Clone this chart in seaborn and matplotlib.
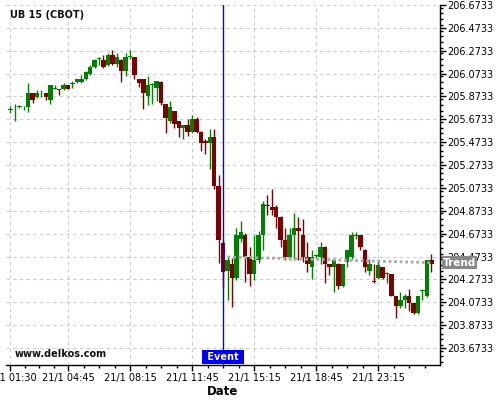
import numpy as np
import pandas as pd
import seaborn as sns
import matplotlib.pyplot as plt
import matplotlib.transforms as mtransforms
from matplotlib.ticker import FixedLocator, MultipleLocator, FormatStrFormatter

# 15 minute bars, UB 15 (CBOT), 21/1
opens = [205.755, 205.76, 205.78, 205.76, 205.78, 205.90, 205.87, 205.90, 205.90, 205.84,
         205.94, 205.94, 205.94, 205.97, 205.98, 206.00, 206.00, 206.03, 206.07, 206.13,
         206.20, 206.19, 206.15, 206.24, 206.16, 206.19, 206.10, 206.215, 206.22, 206.03,
         206.03, 205.88, 205.97, 205.95, 206.00, 205.81, 205.66, 205.75, 205.66, 205.60,
         205.62, 205.56, 205.68, 205.56, 205.48, 205.47, 205.52, 205.09, 204.59, 204.35,
         204.41, 204.29, 204.63, 204.66, 204.47, 204.32, 204.44, 204.66, 204.92, 204.91,
         204.91, 204.82, 204.62, 204.47, 204.66, 204.72, 204.66, 204.47, 204.38, 204.48,
         204.47, 204.56, 204.41, 204.38, 204.41, 204.22, 204.43, 204.47, 204.65, 204.66,
         204.53, 204.35, 204.26, 204.29, 204.38, 204.32, 204.32, 204.13, 204.04, 204.09,
         204.13, 204.07, 203.98, 204.17, 204.13, 204.44]
highs = [205.79, 205.81, 205.80, 205.79, 205.99, 205.90, 205.93, 205.93, 205.90, 205.97,
         205.97, 205.94, 205.99, 205.97, 206.01, 206.03, 206.06, 206.10, 206.15, 206.20,
         206.22, 206.24, 206.25, 206.28, 206.25, 206.20, 206.25, 206.28, 206.22, 206.03,
         206.03, 206.05, 205.99, 206.01, 206.01, 205.81, 205.835, 205.75, 205.66, 205.62,
         205.68, 205.71, 205.69, 205.57, 205.50, 205.59, 205.59, 205.19, 204.62, 204.47,
         204.46, 204.72, 204.78, 204.68, 204.56, 204.66, 204.70, 204.96, 205.01, 205.06,
         204.92, 204.83, 204.72, 204.72, 204.85, 204.82, 204.80, 204.60, 204.53, 204.50,
         204.60, 204.57, 204.41, 204.46, 204.42, 204.41, 204.53, 204.69, 204.69, 204.66,
         204.54, 204.45, 204.41, 204.44, 204.38, 204.34, 204.32, 204.13, 204.16, 204.15,
         204.19, 204.07, 204.13, 204.19, 204.44, 204.50]
lows = [205.73, 205.66, 205.77, 205.755, 205.74, 205.82, 205.86, 205.87, 205.84, 205.81,
        205.935, 205.89, 205.93, 205.94, 205.95, 205.99, 205.99, 206.02, 206.06, 206.12,
        206.15, 206.12, 206.14, 206.15, 206.13, 206.00, 206.05, 206.20, 206.03, 205.96,
        205.76, 205.80, 205.81, 205.83, 205.80, 205.55, 205.64, 205.60, 205.52, 205.50,
        205.53, 205.55, 205.55, 205.40, 205.37, 205.24, 205.06, 204.42, 204.20, 204.09,
        204.03, 204.27, 204.60, 204.25, 204.22, 204.27, 204.42, 204.53, 204.84, 204.84,
        204.72, 204.56, 204.44, 204.44, 204.44, 204.44, 204.43, 204.34, 204.28, 204.46,
        204.41, 204.24, 204.31, 204.16, 204.19, 204.21, 204.38, 204.45, 204.63, 204.53,
        204.34, 204.31, 204.24, 204.28, 204.28, 204.24, 204.13, 203.94, 204.02, 204.02,
        204.00, 203.97, 203.97, 204.09, 204.12, 204.34]
closes = [205.76, 205.76, 205.785, 205.765, 205.90, 205.84, 205.90, 205.905, 205.87, 205.97,
          205.945, 205.93, 205.97, 205.94, 205.985, 206.03, 206.03, 206.09, 206.13, 206.19,
          206.20, 206.13, 206.24, 206.16, 206.22, 206.10, 206.22, 206.22, 206.06, 205.99,
          205.90, 205.97, 205.98, 206.01, 205.82, 205.685, 205.78, 205.63, 205.60, 205.62,
          205.56, 205.68, 205.56, 205.47, 205.47, 205.52, 205.09, 204.62, 204.34, 204.44,
          204.29, 204.66, 204.69, 204.47, 204.32, 204.44, 204.66, 204.93, 204.915, 204.88,
          204.82, 204.62, 204.47, 204.66, 204.72, 204.70, 204.47, 204.41, 204.47, 204.49,
          204.56, 204.41, 204.38, 204.44, 204.22, 204.41, 204.53, 204.66, 204.66, 204.56,
          204.38, 204.41, 204.25, 204.40, 204.29, 204.325, 204.13, 204.04, 204.09, 204.13,
          204.07, 203.98, 204.13, 204.175, 204.44, 204.41]

tick_bars = [0, 13, 27, 41, 55, 69, 83]
tick_labels = ['21/1 01:30', '21/1 04:45', '21/1 08:15', '21/1 11:45',
               '21/1 15:15', '21/1 18:45', '21/1 23:15']

event_bar = 48
trend_x = [49, 95]
trend_y = [204.47, 204.42]

df = pd.DataFrame({'open': opens, 'high': highs, 'low': lows, 'close': closes})
df['bar'] = np.arange(len(df))
up = df['close'] >= df['open']
colors = np.where(up, '#008000', '#800000')

sns.set_theme(style='white')
plt.rcParams['font.family'] = ['DejaVu Sans']

fig = plt.figure(figsize=(5, 4), dpi=100)
ax = fig.add_axes([0.012, 0.0875, 0.868, 0.9])

# wicks and bodies
ax.vlines(df['bar'], df['low'], df['high'], colors=colors, lw=1, zorder=2)
body = np.maximum((df['close'] - df['open']).abs(), 0.008)
ax.bar(df['bar'], body, bottom=np.minimum(df['open'], df['close']),
       width=1.0, color=colors, lw=0, zorder=2)

# trend line
sns.lineplot(x=trend_x, y=trend_y, ax=ax, color='#a8a8a8', lw=2,
             linestyle=(0, (1, 1)), zorder=3)

# event line
ax.axvline(event_bar, color='#0000ff', lw=1, zorder=4)
bt = mtransforms.blended_transform_factory(ax.transData, ax.transAxes)
ax.text(event_bar, 0.008, ' Event ', transform=bt, ha='center', va='bottom',
        color='white', fontsize=7, fontweight='bold', zorder=5,
        bbox=dict(boxstyle='square,pad=0.2', fc='#0000ff', ec='none'))

bt2 = mtransforms.blended_transform_factory(ax.transAxes, ax.transData)
ax.annotate('Trend', xy=(1.0, trend_y[-1]), xycoords=bt2, xytext=(2, 0),
            textcoords='offset points', ha='left', va='center', color='white',
            fontsize=7.5, fontweight='bold', annotation_clip=False, zorder=6,
            bbox=dict(boxstyle='square,pad=0.12', fc='#888888', ec='none'))

ax.set_xlim(-1, 96.95)
ax.set_ylim(203.525, 206.6733)

# x ticks
minor = []
for a, b in zip(tick_bars[:-1], tick_bars[1:]):
    minor += [a + (b - a) * k / 4 for k in (1, 2, 3)]
step = (tick_bars[-1] - tick_bars[-2]) / 4
minor += [tick_bars[-1] + step * k for k in (1, 2, 3)]
ax.xaxis.set_major_locator(FixedLocator(tick_bars))
ax.xaxis.set_minor_locator(FixedLocator(minor))
ax.set_xticklabels(tick_labels)

# y ticks on the right
ax.yaxis.tick_right()
ax.yaxis.set_major_locator(FixedLocator(np.arange(203.6733, 206.68, 0.2)))
ax.yaxis.set_minor_locator(MultipleLocator(0.05))
ax.yaxis.set_major_formatter(FormatStrFormatter('%.4f'))

ax.tick_params(axis='both', which='major', length=4, width=1, color='black',
               labelsize=7, labelcolor='black', direction='out')
ax.tick_params(axis='both', which='minor', length=2, width=1, color='black', direction='out')
ax.tick_params(axis='x', which='both', bottom=True, pad=2)
ax.tick_params(axis='y', which='both', right=True, left=False, pad=1)

ax.grid(True, which='major', color='#cccccc', linestyle=(0, (3, 3)), lw=0.8)
ax.set_axisbelow(True)

for side in ['top', 'left']:
    ax.spines[side].set_visible(False)
for side in ['bottom', 'right']:
    ax.spines[side].set_color('black')
    ax.spines[side].set_linewidth(1)

ax.set_xlabel('Date', fontsize=8.5, fontweight='bold', color='black', labelpad=1)
ax.set_ylabel('')

fig.text(10 / 500, 1 - 15 / 400, 'UB 15 (CBOT)', fontsize=7, fontweight='bold',
         ha='left', va='center', color='#111111')
fig.text(15 / 500, 1 - 354 / 400, 'www.delkos.com', fontsize=7, fontweight='bold',
         ha='left', va='center', color='#111111')

fig.savefig('out.png', dpi=100, facecolor='white')
